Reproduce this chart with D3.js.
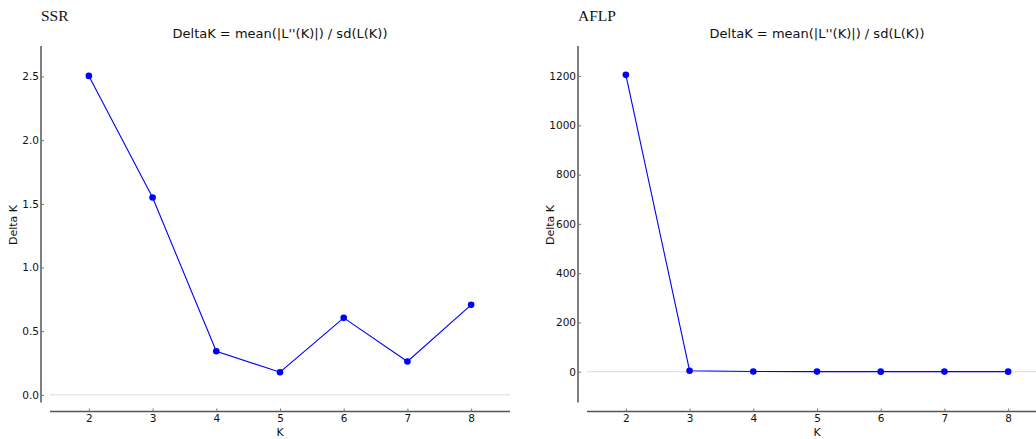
<!DOCTYPE html>
<html>
<head>
<meta charset="utf-8">
<script src="https://cdn.jsdelivr.net/npm/d3@7"></script>
<style>
  body { margin: 0; background: #fff; }
  svg { display: block; }
  .tick text { font-family: "DejaVu Sans", sans-serif; font-size: 10.5px; fill: #111; }
</style>
</head>
<body>
<div id="chart"></div>
<script>
// values
var kValues = [2, 3, 4, 5, 6, 7, 8];
var ssrDeltaK = [2.505, 1.55, 0.342, 0.178, 0.605, 0.262, 0.707];
var aflpDeltaK = [1205, 4, 0.6, 0.4, 0.3, 0.5, 0.3];
var ssrTicks = [0, 0.5, 1.0, 1.5, 2.0, 2.5];
var aflpTicks = [0, 200, 400, 600, 800, 1000, 1200];
var panelNames = ["SSR", "AFLP"];
var subTitle = "DeltaK = mean(|L''(K)|) / sd(L(K))";

var svg = d3.select("#chart").append("svg").attr("width", 1036).attr("height", 439);

var drawPanel = function(opts) {
  var g = svg.append("g");
  var x = d3.scaleLinear().domain([1.39, 8.61]).range([opts.left + 9, opts.left + 469]);
  var y = d3.scaleLinear().domain(opts.yDomain).range([402.5, 46]);

  // titles
  g.append("text").text(opts.name)
    .attr("x", opts.left).attr("y", 21)
    .style("font-family", "'Liberation Serif', 'Times New Roman', serif")
    .style("font-size", "15.5px").attr("fill", "#111");
  g.append("text").text(subTitle)
    .attr("x", x(5)).attr("y", 38).attr("text-anchor", "middle")
    .style("font-family", "'DejaVu Sans', sans-serif")
    .style("font-size", "13px").attr("fill", "#111");

  // zero line
  g.append("line")
    .attr("x1", x.range()[0]).attr("x2", x.range()[1])
    .attr("y1", y(0)).attr("y2", y(0))
    .attr("stroke", "#dcdcdc").attr("stroke-width", 1);

  // y axis (offset spine)
  var yAxis = g.append("g").attr("transform", "translate(" + opts.left + ",0)")
    .call(d3.axisRight(y).tickValues(opts.yTicks).tickSize(3).tickFormat(opts.fmt));
  yAxis.select(".domain").attr("stroke", "#555").attr("stroke-width", 1.5)
    .attr("d", "M0," + y.range()[1] + "V" + y.range()[0]);
  yAxis.selectAll(".tick line").attr("stroke", "#777");
  yAxis.selectAll(".tick text").attr("x", -2).attr("text-anchor", "end");

  // x axis
  var xAxis = g.append("g").attr("transform", "translate(0,411.5)")
    .call(d3.axisTop(x).tickValues(kValues).tickSize(3).tickFormat(d3.format("d")));
  xAxis.select(".domain").attr("stroke", "#555").attr("stroke-width", 1.5)
    .attr("d", "M" + x.range()[0] + ",0H" + x.range()[1]);
  xAxis.selectAll(".tick line").attr("stroke", "#777");
  xAxis.selectAll(".tick text").attr("y", 3.5).attr("dy", "0.71em");

  g.append("text").text("K")
    .attr("x", x(5)).attr("y", 436).attr("text-anchor", "middle")
    .style("font-family", "'DejaVu Sans', sans-serif").style("font-size", "11px").attr("fill", "#111");
  g.append("text").text("Delta K")
    .attr("transform", "translate(" + (opts.left - 24) + "," + 225 + ") rotate(-90)")
    .attr("text-anchor", "middle")
    .style("font-family", "'DejaVu Sans', sans-serif").style("font-size", "11px").attr("fill", "#111");

  // line and points
  var pts = kValues.map(function(k, i) { return [k, opts.values[i]]; });
  g.append("path").datum(pts)
    .attr("fill", "none").attr("stroke", "#0000ff").attr("stroke-width", 1.1)
    .attr("d", d3.line().x(function(d) { return x(d[0]); }).y(function(d) { return y(d[1]); }));
  g.selectAll("circle.pt").data(pts).enter().append("circle")
    .attr("class", "pt")
    .attr("cx", function(d) { return x(d[0]); })
    .attr("cy", function(d) { return y(d[1]); })
    .attr("r", 3.3).attr("fill", "#0000ff");
};

drawPanel({ name: panelNames[0], left: 41, yDomain: [-0.06, 2.74], yTicks: ssrTicks,
  values: ssrDeltaK, fmt: d3.format(".1f") });
drawPanel({ name: panelNames[1], left: 578, yDomain: [-125, 1322], yTicks: aflpTicks,
  values: aflpDeltaK, fmt: d3.format("d") });
</script>
</body>
</html>
